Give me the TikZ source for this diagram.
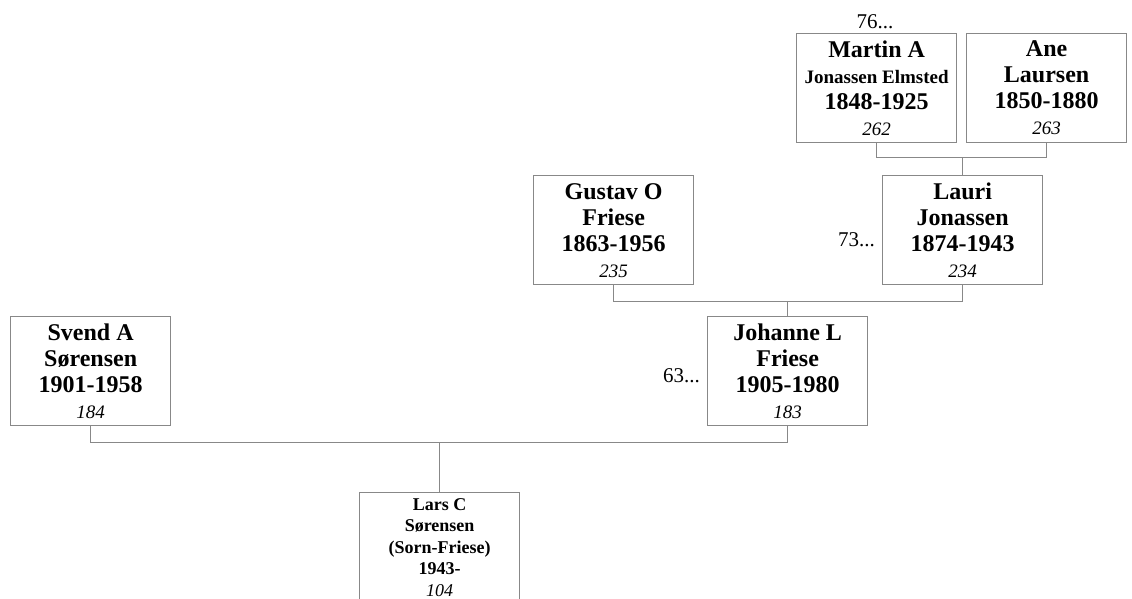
\documentclass[tikz,border=0pt]{standalone}
\usepackage{fontspec}
\setmainfont{Liberation Serif}
\definecolor{linegray}{RGB}{136,136,136}
\begin{document}
\begin{tikzpicture}[x=1pt,y=-1pt,
  person/.style={draw=linegray, line width=1.3pt, minimum width=160pt, minimum height=109pt,
    inner sep=0pt, align=center, anchor=north west,
    font=\fontsize{24}{26}\selectfont\bfseries},
  conn/.style={draw=linegray, line width=1.3pt},
  lbl/.style={font=\fontsize{21}{24}\selectfont, inner sep=0pt}]
\clip (0,0) rectangle (1132,598);
\newcommand\numtxt[1]{{\fontsize{19}{22}\selectfont\mdseries\itshape #1}}
\node[person] (martin) at (796,33) {Martin A\\{\fontsize{19}{20}\selectfont Jonassen Elmsted}\\1848-1925\\\numtxt{262}};
\node[person] (ane) at (966,33) {Ane\\Laursen\\1850-1880\\\numtxt{263}};
\node[person] (gustav) at (533,175) {Gustav O\\Friese\\1863-1956\\\numtxt{235}};
\node[person] (lauri) at (882,175) {Lauri\\Jonassen\\1874-1943\\\numtxt{234}};
\node[person] (svend) at (10,316) {Svend A\\Sørensen\\1901-1958\\\numtxt{184}};
\node[person] (johanne) at (707,316) {Johanne L\\Friese\\1905-1980\\\numtxt{183}};
\node[person, font=\fontsize{18}{21.5}\selectfont\bfseries] (lars) at (359,492) {Lars C\\Sørensen\\(Sorn-Friese)\\1943-\\{\fontsize{18}{20}\selectfont\mdseries\itshape 104}};
\node[lbl, anchor=base] (l76) at (875,28) {76...};
\node[lbl, anchor=base east] (l73) at (875,246) {73...};
\node[lbl, anchor=base east] (l63) at (700,382) {63...};
\draw[conn] (martin.south) -- ++(0,14) coordinate (mj) -| (ane.south);
\draw[conn] (lauri.north) -- (lauri.north |- mj);
\draw[conn] (gustav.south) -- ++(0,16) coordinate (gj) -| (lauri.south);
\draw[conn] (johanne.north) -- (johanne.north |- gj);
\draw[conn] (svend.south) -- ++(0,16) coordinate (sj) -| (johanne.south);
\draw[conn] (lars.north) -- (lars.north |- sj);
\end{tikzpicture}
\end{document}
